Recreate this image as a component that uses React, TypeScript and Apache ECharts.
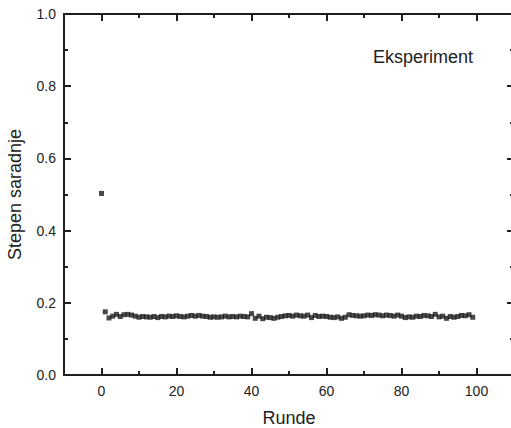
import React, { useEffect, useRef } from "react";
import * as echarts from "echarts";

const rounds: number[] = Array.from({ length: 100 }, (_, i) => i);
const cooperation: number[] = [
  0.503, 0.175, 0.158, 0.163, 0.168, 0.162, 0.167, 0.168, 0.166, 0.163,
  0.160, 0.162, 0.161, 0.160, 0.162, 0.159, 0.162, 0.161, 0.163, 0.162,
  0.164, 0.162, 0.161, 0.163, 0.165, 0.163, 0.165, 0.163, 0.162, 0.160,
  0.161, 0.160, 0.161, 0.163, 0.161, 0.162, 0.161, 0.163, 0.162, 0.161,
  0.170, 0.157, 0.163, 0.156, 0.160, 0.159, 0.157, 0.160, 0.162, 0.164,
  0.165, 0.163, 0.166, 0.164, 0.163, 0.166, 0.159, 0.165, 0.162, 0.163,
  0.162, 0.160, 0.159, 0.161, 0.157, 0.160, 0.167, 0.165, 0.164, 0.163,
  0.164, 0.166, 0.165, 0.167, 0.166, 0.164, 0.166, 0.165, 0.163, 0.166,
  0.163, 0.159, 0.161, 0.160, 0.163, 0.162, 0.165, 0.164, 0.162, 0.168,
  0.161, 0.163, 0.157, 0.162, 0.160, 0.162, 0.165, 0.164, 0.167, 0.160,
];
const xMajorTicks: number[] = [0, 20, 40, 60, 80, 100];
const xMinorTicks: number[] = [10, 30, 50, 70, 90];
const xTitle = "Runde";
const yTitle = "Stepen saradnje";
const panelLabel = "Eksperiment";

const FONT = "Liberation Sans, Arial, sans-serif";
const AXIS_COLOR = "#1f1f1f";
const TEXT_COLOR = "#222";

export default function App() {
  const ref = useRef<HTMLDivElement>(null);
  useEffect(() => {
    if (!ref.current) return;
    const chart = echarts.init(ref.current, undefined, { renderer: "svg" });
    const ls = () => ({ color: AXIS_COLOR, width: 2 });
    const labelStyle = { fontSize: 14, color: TEXT_COLOR, fontFamily: FONT };
    const nameStyle = { fontSize: 18, color: TEXT_COLOR, fontFamily: FONT };
    const xAxisBase = (position: string, major: boolean): any => ({
      type: "value",
      position,
      min: -10,
      max: 110,
      axisLine: { show: major, onZero: false, lineStyle: ls() },
      axisTick: {
        show: true,
        inside: true,
        length: major ? 7 : 4,
        customValues: major ? xMajorTicks : xMinorTicks,
        lineStyle: ls(),
      },
      axisLabel: { show: false },
      splitLine: { show: false },
    });
    const yAxisBase = (position: string): any => ({
      type: "value",
      position,
      min: 0,
      max: 1,
      interval: 0.2,
      axisLine: { show: true, onZero: false, lineStyle: ls() },
      axisTick: { show: true, inside: true, length: 7, lineStyle: ls() },
      minorTick: { show: true, splitNumber: 2, length: 4, lineStyle: ls() },
      axisLabel: { show: false },
      splitLine: { show: false },
    });
    chart.setOption({
      animation: false,
      backgroundColor: "#fff",
      title: {
        text: panelLabel,
        left: 373,
        top: 48,
        padding: 0,
        textStyle: { fontSize: 18, fontWeight: "normal", color: TEXT_COLOR, fontFamily: FONT },
      },
      grid: { left: 64, top: 14, width: 450, height: 361, outerBoundsMode: "none" },
      xAxis: [
        {
          ...xAxisBase("bottom", true),
          axisLabel: { show: true, customValues: xMajorTicks, margin: 9, ...labelStyle },
          name: xTitle,
          nameLocation: "middle",
          nameGap: 34,
          nameTextStyle: nameStyle,
        },
        xAxisBase("bottom", false),
        xAxisBase("top", true),
        xAxisBase("top", false),
      ],
      yAxis: [
        {
          ...yAxisBase("left"),
          axisLabel: { show: true, margin: 8, ...labelStyle, formatter: (v: number) => v.toFixed(1) },
          name: yTitle,
          nameLocation: "middle",
          nameGap: 40,
          nameTextStyle: nameStyle,
        },
        yAxisBase("right"),
      ],
      series: [
        {
          type: "scatter",
          xAxisIndex: 0,
          yAxisIndex: 0,
          symbol: "rect",
          symbolSize: 5,
          itemStyle: { color: "#1a1a1a" },
          data: rounds.map((r, i) => [r, cooperation[i]]),
        },
      ],
    });
    return () => chart.dispose();
  }, []);
  return <div ref={ref} style={{ width: 511, height: 428, position: "absolute", left: 0, top: 0 }} />;
}
